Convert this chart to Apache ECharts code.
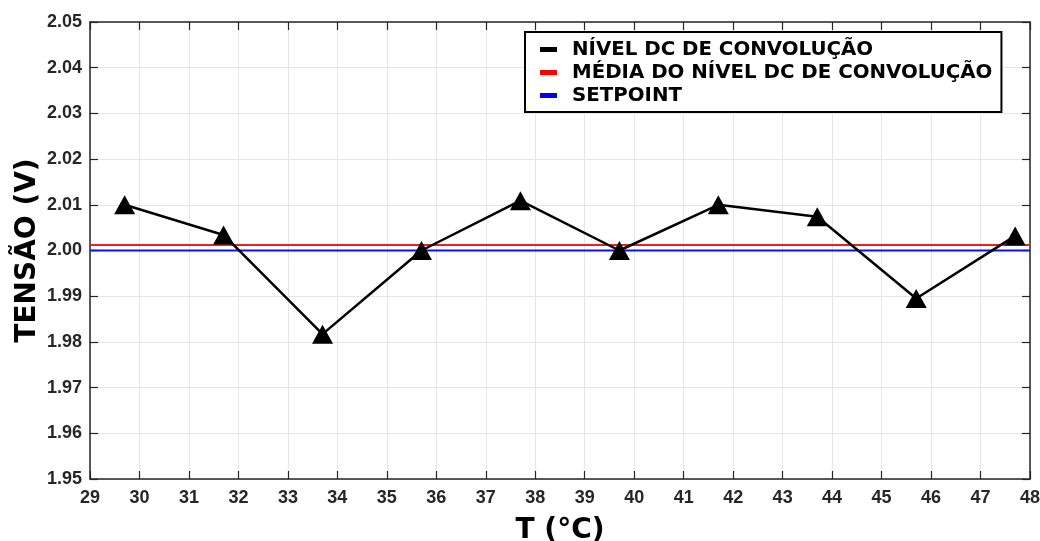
<!DOCTYPE html>
<html>
<head>
<meta charset="utf-8">
<script src="https://cdn.jsdelivr.net/npm/echarts@6/dist/echarts.min.js"></script>
<style>
  html, body { margin: 0; padding: 0; background: #fff; }
  #chart { width: 1040px; height: 541px; }
</style>
</head>
<body>
<div id="chart"></div>
<script>
// temperaturas (°C) e tensões
const temps = [29.7, 31.7, 33.7, 35.7, 37.7, 39.7, 41.7, 43.7, 45.7, 47.7]
const nivelDC = [2.010, 2.0034, 1.9817, 2.000, 2.0109, 2.000, 2.010, 2.0074, 1.9895, 2.0032]
const mediaDC = 2.0012
const setpoint = 2.000
const xRange = [29, 48]
const yRange = [1.95, 2.05]

const names = ['NÍVEL DC DE CONVOLUÇÃO', 'MÉDIA DO NÍVEL DC DE CONVOLUÇÃO', 'SETPOINT']

const chart = echarts.init(document.getElementById('chart'))

const tickLabel = { color: '#262626', fontFamily: 'Liberation Sans, Arial', fontWeight: 'bold', fontSize: 18 }
const axisLine = { show: true, lineStyle: { color: '#262626', width: 1.5 } }
const axisTick = { show: true, inside: true, length: 8, lineStyle: { color: '#262626', width: 1.2 } }
const nameStyle = { color: '#000', fontFamily: 'DejaVu Sans', fontWeight: 'bold', fontSize: 28 }

const option = {
  animation: false,
  grid: { left: 90, right: 10, top: 22, bottom: 62, outerBoundsMode: 'none' },
  legend: {
    data: names,
    orient: 'vertical',
    left: 525,
    top: 32,
    padding: [6, 9, 5, 15],
    itemGap: 0,
    itemWidth: 17,
    itemHeight: 5,
    icon: 'rect',
    backgroundColor: '#fff',
    borderColor: '#000',
    borderWidth: 2,
    borderRadius: 0,
    textStyle: {
      color: '#000', fontFamily: 'DejaVu Sans', fontWeight: 'bold', fontSize: 19.8, lineHeight: 23,
      padding: [0, 0, 0, 10]
    }
  },
  xAxis: [
    {
      type: 'value', min: xRange[0], max: xRange[1], interval: 1,
      name: 'T (°C)', nameLocation: 'middle', nameGap: 38, nameMoveOverlap: false,
      nameTextStyle: nameStyle,
      axisLine, axisTick,
      axisLabel: { ...tickLabel, margin: 10 },
      splitLine: { show: true, lineStyle: { color: '#e6e6e6', width: 1 } }
    },
    {
      type: 'value', position: 'top', min: xRange[0], max: xRange[1], interval: 1,
      axisLine, axisTick, axisLabel: { show: false }, splitLine: { show: false }
    }
  ],
  yAxis: [
    {
      type: 'value', min: yRange[0], max: yRange[1], interval: 0.01,
      name: 'TENSÃO (V)', nameLocation: 'middle', nameGap: 48, nameMoveOverlap: false,
      nameTextStyle: nameStyle,
      axisLine, axisTick,
      axisLabel: { ...tickLabel, margin: 8, formatter: v => v.toFixed(2) },
      splitLine: { show: true, lineStyle: { color: '#e6e6e6', width: 1 } }
    },
    {
      type: 'value', position: 'right', min: yRange[0], max: yRange[1], interval: 0.01,
      axisLine, axisTick, axisLabel: { show: false }, splitLine: { show: false }
    }
  ],
  series: [
    {
      name: names[0],
      type: 'line',
      z: 5,
      data: temps.map((t, i) => [t, nivelDC[i]]),
      symbol: 'triangle',
      symbolSize: [21, 19],
      itemStyle: { color: '#000' },
      lineStyle: { color: '#000', width: 2.5 }
    },
    {
      name: names[1],
      type: 'line',
      z: 3,
      data: [[xRange[0], mediaDC], [xRange[1], mediaDC]],
      symbol: 'none',
      itemStyle: { color: '#ff0000' },
      lineStyle: { color: '#e8231e', width: 2 }
    },
    {
      name: names[2],
      type: 'line',
      z: 3,
      data: [[xRange[0], setpoint], [xRange[1], setpoint]],
      symbol: 'none',
      itemStyle: { color: '#0000ff' },
      lineStyle: { color: '#1010ee', width: 2 }
    }
  ]
}

chart.setOption(option)
</script>
</body>
</html>
